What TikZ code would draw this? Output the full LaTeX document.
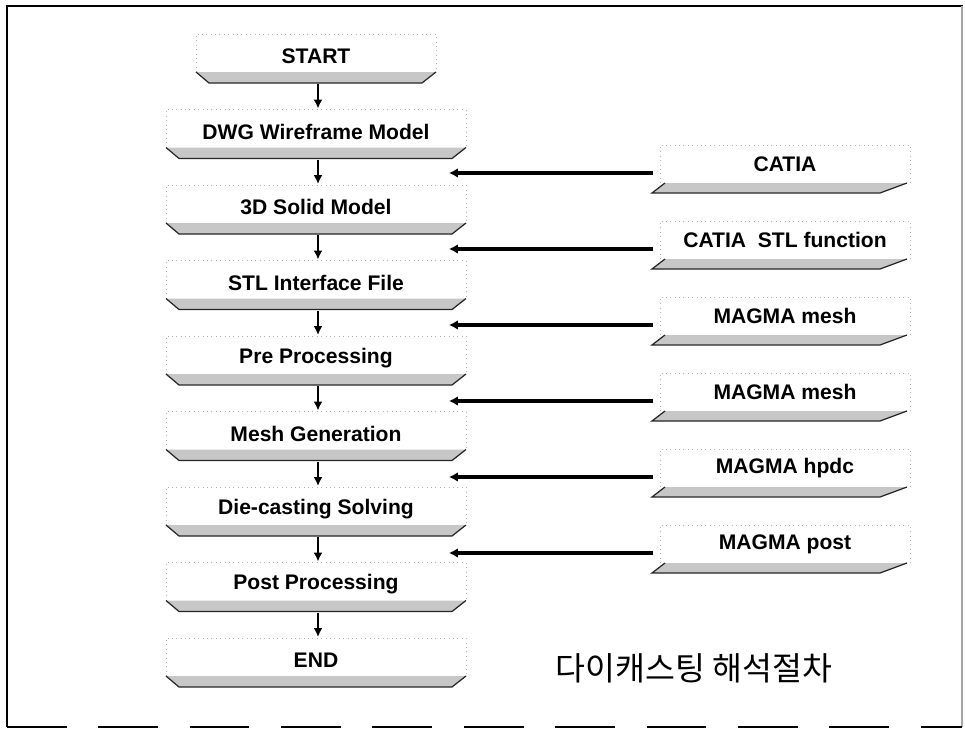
\documentclass[tikz,border=0pt]{standalone}
\usepackage{fontspec}
\setmainfont{Liberation Sans}
\newfontfamily\kofont{Noto Sans CJK KR}
\usetikzlibrary{arrows.meta,calc}
\tikzset{
  stage/.style={font=\bfseries\fontsize{12}{14}\selectfont, inner sep=0pt},
  tool/.style={font=\bfseries\fontsize{12}{14}\selectfont, inner sep=0pt},
  shade/.style={fill=black!22},
  edge/.style={draw=black!85, line width=0.7pt},
  rim/.style={draw=black!30, dotted, line width=0.5pt},
  flow/.style={line width=1.3pt, -{Latex[length=5pt,width=5pt]}},
  feed/.style={line width=2.2pt, -{Latex[length=5pt,width=5.5pt]}},
}
\begin{document}
\begin{tikzpicture}[x=0.02cm,y=-0.02cm,line width=0.6pt]
  \useasboundingbox (0,0) rectangle (965,734);

  % Outer frame: heavy left and top, faint right, broken bottom.
  \draw[line width=1.6pt] (7,727) -- (7,6) -- (963,6);
  \draw[black!35] (962,6) -- (962,727);
  \draw[line width=1.6pt, dash pattern=on 34pt off 18pt] (7,727) -- (962,727);

  % Left column: the steps of the analysis, each with a shaded base.
  \foreach \nm/\txt/\w [count=\i from 0] in {start/START/120, dwg/DWG Wireframe Model/150,
      solid/3D Solid Model/150, stl/STL Interface File/150, pre/Pre Processing/150,
      mesh/Mesh Generation/150, solve/Die-casting Solving/150, post/Post Processing/150,
      finish/END/150} {
    \node[stage] (\nm) at (316,56+75.5*\i) {\txt};
    \draw[rim] ($(\nm)+(-\w,16)$) -- ++(0,-38) -- ++(2*\w,0) -- ++(0,38);
    \fill[shade] ($(\nm)+(-\w,16)$) -- ($(\nm)+(\w,16)$) -- ($(\nm)+(\w-14,27)$) -- ($(\nm)+(-\w+13,27)$) -- cycle;
    \draw[edge] ($(\nm)+(-\w,16)$) -- ($(\nm)+(-\w+13,27)$) -- ($(\nm)+(\w-14,27)$) -- ($(\nm)+(\w,16)$);
  }

  % Downward arrows between the steps.
  \foreach \a/\b in {start/dwg, dwg/solid, solid/stl, stl/pre, pre/mesh, mesh/solve, solve/post, post/finish}
    \draw[flow] ($(\a)+(2,28)$) -- ($(\b)+(2,-23)$);

  % Right column: the software used, feeding into the gaps.
  \foreach \nm/\txt [count=\i from 0] in {catia/CATIA, stlfn/CATIA\ \ STL function, mmesh/MAGMA mesh,
      mgen/MAGMA mesh, hpdc/MAGMA hpdc, mpost/MAGMA post} {
    \node[tool] (\nm) at (785,164+76*\i) {\txt};
    \draw[rim] ($(\nm)+(-125,19)$) -- ++(0,-38) -- ++(250,0) -- ++(0,38);
    \fill[shade] ($(\nm)+(-120,19)$) -- ($(\nm)+(122,19)$) -- ($(\nm)+(95,29)$) -- ($(\nm)+(-133,29)$) -- cycle;
    \draw[edge] ($(\nm)+(-120,19)$) -- ($(\nm)+(-133,29)$) -- ($(\nm)+(95,29)$) -- ($(\nm)+(122,19)$);
    \coordinate (in\i) at ($(\nm)+(-336,9)$);
    \draw[feed] ($(\nm)+(-132,9)$) -- (in\i);
  }

  % Caption.
  \node[font=\kofont\fontsize{18.5}{22}\selectfont] (title) at (694,668) {다이캐스팅 해석절차};
\end{tikzpicture}
\end{document}
